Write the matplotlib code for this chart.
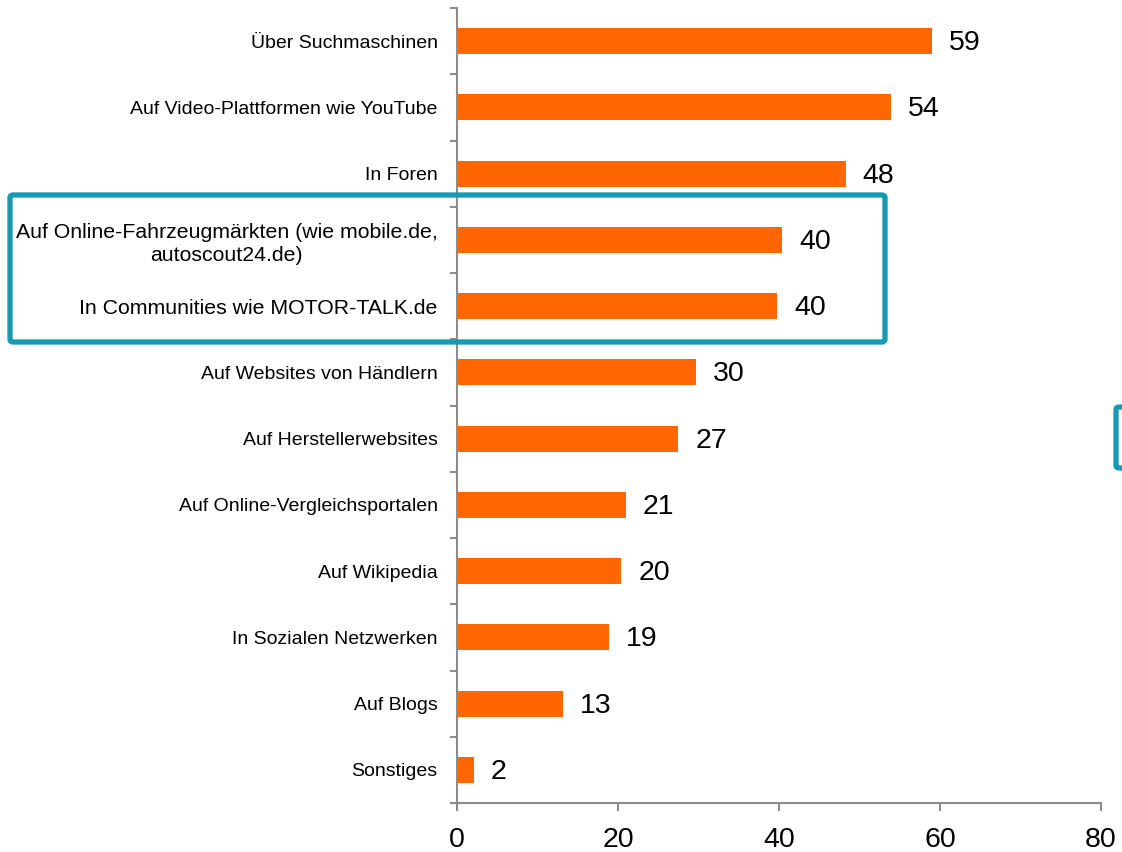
import matplotlib.pyplot as plt
from matplotlib.patches import FancyBboxPatch

plt.rcParams['font.family'] = ['Liberation Sans', 'DejaVu Sans']

# data (top to bottom)
categories = [
    'Über Suchmaschinen',
    'Auf Video-Plattformen wie YouTube',
    'In Foren',
    'Auf Online-Fahrzeugmärkten (wie mobile.de,\nautoscout24.de)',
    'In Communities wie MOTOR-TALK.de',
    'Auf Websites von Händlern',
    'Auf Herstellerwebsites',
    'Auf Online-Vergleichsportalen',
    'Auf Wikipedia',
    'In Sozialen Netzwerken',
    'Auf Blogs',
    'Sonstiges',
]
values = [59, 53.9, 48.3, 40.4, 39.8, 29.7, 27.5, 21.0, 20.4, 18.9, 13.2, 2.1]
value_labels = ['59', '54', '48', '40', '40', '30', '27', '21', '20', '19', '13', '2']
highlighted = [3, 4]
x_ticks = [0, 20, 40, 60, 80]

orange = '#FF6600'
teal = '#1798B3'
grey = '#8C8C8C'

fig = plt.figure(figsize=(11.22, 8.52), dpi=100)
ax = fig.add_axes([457 / 1122, 1 - 803 / 852, (1101 - 457) / 1122, (803 - 8) / 852])

n = len(categories)
pos = list(range(n))
ax.barh(pos, values, height=0.39, color=orange)
ax.set_ylim(n - 0.5, -0.5)
ax.set_xlim(0, 80)

for p, v, lab in zip(pos, values, value_labels):
    ax.annotate(lab, (v, p), xytext=(17, -2), textcoords='offset pixels',
                va='center', ha='left', fontsize=20.5)

ax.set_yticks(pos)
ax.set_yticklabels(categories, fontsize=14, multialignment='center', linespacing=1.25)
for i, t in enumerate(ax.get_yticklabels()):
    if i in highlighted:
        t.set_fontsize(15.3)
ax.tick_params(axis='y', length=0, pad=14)
ax.set_yticks([i - 0.5 for i in range(n + 1)], minor=True)
ax.tick_params(axis='y', which='minor', length=5, color=grey, width=1.5)

ax.set_xticks(x_ticks)
ax.set_xticklabels([str(t) for t in x_ticks], fontsize=20.5)
ax.tick_params(axis='x', length=6, color=grey, width=1.5, pad=11)

for s in ['top', 'right']:
    ax.spines[s].set_visible(False)
for s in ['left', 'bottom']:
    ax.spines[s].set_color(grey)
    ax.spines[s].set_linewidth(1.5)

# highlight boxes
box = FancyBboxPatch((10 / 1122, 1 - 342 / 852), (885 - 10) / 1122, (342 - 195) / 852,
                     boxstyle='round,pad=0,rounding_size=0.003', transform=fig.transFigure,
                     fill=False, edgecolor=teal, linewidth=3.8, clip_on=False)
fig.patches.append(box)
box2 = FancyBboxPatch((1116 / 1122, 1 - 468 / 852), 40 / 1122, (468 - 407) / 852,
                      boxstyle='round,pad=0,rounding_size=0.003', transform=fig.transFigure,
                      fill=False, edgecolor=teal, linewidth=3.8, clip_on=False)
fig.patches.append(box2)

fig.savefig('out.png', dpi=100)
